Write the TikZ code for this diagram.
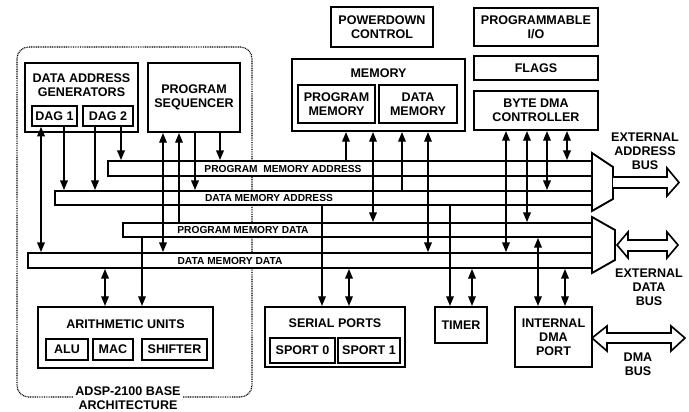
\documentclass[tikz,border=0pt]{standalone}
\usepackage{fontspec}
\setmainfont{Liberation Sans}
\usepackage{tikz}
\usetikzlibrary{arrows.meta,positioning}

\begin{document}
\begin{tikzpicture}
  [
    x=0.3mm, y=-0.3mm,
    >={Triangle[length=2.9mm, width=2.3mm]},
    wh/.style 2 args={minimum width=#1*0.3mm, minimum height=#2*0.3mm},
    Unit/.style={draw=black, line width=1.8pt, fill=white, inner sep=0pt, align=center, font=\bfseries\fontsize{10.7}{11.9}\selectfont},
    Part/.style={Unit, line width=1.3pt},
    Title/.style={inner sep=0pt, align=center, font=\bfseries\fontsize{10.7}{11.9}\selectfont},
    Bus/.style={draw=black, line width=1.6pt, fill=white, inner sep=0pt},
    BusName/.style={inner sep=0pt, font=\bfseries\fontsize{8.7}{10}\selectfont},
    Wire/.style={draw, line width=1.2pt},
    Frame/.style={draw, dash pattern=on 0.8pt off 0.7pt, line width=1pt, rounded corners=3.5mm},
    Fat/.style={draw, line width=1.4pt, fill=white}
  ]
  \useasboundingbox (0,0) rectangle (689,412);

  % Base architecture frame
  \draw[Frame] (17,47) rectangle (252,397);

  % Buses
  \node[Bus, wh={484}{15}] (pma) at (350,168.5) {};
  \node[Bus, wh={537}{14}] (dma) at (323.5,198) {};
  \node[Bus, wh={469}{14}] (pmd) at (357.5,230) {};
  \node[Bus, wh={564}{15}] (dmd) at (310,260.5) {};

  \node[BusName] (pmaName) at (283,168.5) {PROGRAM\ \ MEMORY ADDRESS};
  \node[BusName] (dmaName) at (269,198) {DATA MEMORY ADDRESS};
  \node[BusName] (pmdName) at (243,230) {PROGRAM MEMORY DATA};
  \node[BusName] (dmdName) at (230,260.5) {DATA MEMORY DATA};

  % Bus exchange
  \draw[Bus] (592,153) -- (613,167) -- (613,199) -- (592,211) -- cycle;
  \draw[Bus] (592,217) -- (615,230) -- (615,260) -- (592,273) -- cycle;

  \draw[Fat] (613,177) -- (667,177) -- (667,168) -- (679,182.5)
    -- (667,196) -- (667,188) -- (613,188);
  \draw[Fat] (617,245) -- (628,232) -- (628,240) -- (667,240) -- (667,232)
    -- (678,245) -- (667,258) -- (667,251) -- (628,251) -- (628,258) -- cycle;
  \draw[Fat] (592,338) -- (607,326) -- (607,333) -- (671,333) -- (671,326)
    -- (685,338) -- (671,351) -- (671,343) -- (607,343) -- (607,351) -- cycle;

  \node[Title] (extAddr) at (645,151) {EXTERNAL\\ADDRESS\\BUS};
  \node[Title] (extData) at (649,287) {EXTERNAL\\DATA\\BUS};
  \node[Title] (dmaBus) at (638,364) {DMA\\BUS};

  % Nodes
  \node[Unit, wh={113}{69}] (dag) at (81.5,97.5) {};
  \node[Title] (dagName) at (81.5,85) {DATA ADDRESS\\GENERATORS};
  \node[Part, wh={45}{20}] (dagA) at (54.5,116) {DAG 1};
  \node[Part, wh={50}{20}] (dagB) at (108,116) {DAG 2};

  \node[Unit, wh={92}{69}] (seq) at (194,97.5) {PROGRAM\\SEQUENCER};

  \node[Unit, wh={102}{40}] (power) at (382,27) {POWERDOWN\\CONTROL};

  \node[Unit, wh={173}{72}] (mem) at (378.5,95) {};
  \node[Title] (memName) at (378.5,73) {MEMORY};
  \node[Part, wh={77}{38}] (pmem) at (336.5,104) {PROGRAM\\MEMORY};
  \node[Part, wh={78}{38}] (dmem) at (418,104) {DATA\\MEMORY};

  \node[Unit, wh={124}{38}] (pio) at (536,27) {PROGRAMMABLE\\I/O};
  \node[Unit, wh={124}{24}] (flags) at (536,68) {FLAGS};
  \node[Unit, wh={124}{39}] (bdma) at (536,110.5) {BYTE DMA\\CONTROLLER};

  \node[Unit, wh={175}{61}] (arith) at (125.5,337.5) {};
  \node[Title] (arithName) at (125.5,324) {ARITHMETIC UNITS};
  \node[Part, wh={42}{21}] (alu) at (67,349.5) {ALU};
  \node[Part, wh={40}{21}] (mac) at (113,349.5) {MAC};
  \node[Part, wh={65}{21}] (shifter) at (174.5,349.5) {SHIFTER};

  \node[Unit, wh={140}{60}] (serial) at (335,337) {};
  \node[Title] (serialName) at (335,323) {SERIAL PORTS};
  \node[Part, wh={65}{25}] (sportA) at (302.5,350.5) {SPORT 0};
  \node[Part, wh={62}{25}] (sportB) at (369,350.5) {SPORT 1};

  \node[Unit, wh={52}{36}] (timer) at (461,325) {TIMER};
  \node[Unit, wh={77}{60}] (idma) at (553.5,337) {INTERNAL\\DMA\\PORT};

  \node[Title, fill=white, inner sep=2pt] (base) at (128,398) {ADSP-2100 BASE\\ARCHITECTURE};

  % Lines
  \path [<->, Wire] (dagA.south -| 41,0) -- (dmd.north -| 41,0);
  \path [->, Wire] (dagA.south -| 64,0) -- (dma.north -| 64,0);
  \path [->, Wire] (dagB.south -| 95,0) -- (dma.north -| 95,0);
  \path [->, Wire] (dagB.south -| 121,0) -- (pma.north -| 121,0);

  \path [<->, Wire] (seq.south -| 163,0) -- (dmd.north -| 163,0);
  \path [<-, Wire] (seq.south -| 179,0) -- (pmd.north -| 179,0);
  \path [->, Wire] (seq.south -| 195,0) -- (dma.north -| 195,0);
  \path [->, Wire] (seq.south -| 220,0) -- (pma.north -| 220,0);

  \path [<->, Wire] (dmd.south -| 105,0) -- (arith.north -| 105,0);
  \path [->, Wire] (pmd.south -| 142,0) -- (arith.north -| 142,0);

  \path [<-, Wire] (mem.south -| 346,0) -- (pma.north -| 346,0);
  \path [<->, Wire] (mem.south -| 373,0) -- (pmd.north -| 373,0);
  \path [<-, Wire] (mem.south -| 402,0) -- (dma.north -| 402,0);
  \path [<->, Wire] (mem.south -| 428,0) -- (dmd.north -| 428,0);

  \path [<->, Wire] (bdma.south -| 506,0) -- (dmd.north -| 506,0);
  \path [<->, Wire] (bdma.south -| 527,0) -- (pmd.north -| 527,0);
  \path [<->, Wire] (bdma.south -| 547,0) -- (dma.north -| 547,0);
  \path [<->, Wire] (bdma.south -| 567,0) -- (pma.north -| 567,0);

  \path [->, Wire] (dma.south -| 322,0) -- (serial.north -| 322,0);
  \path [<->, Wire] (dmd.south -| 349,0) -- (serial.north -| 349,0);
  \path [->, Wire] (dma.south -| 450,0) -- (timer.north -| 450,0);
  \path [<->, Wire] (dmd.south -| 472,0) -- (timer.north -| 472,0);
  \path [<->, Wire] (pmd.south -| 538,0) -- (idma.north -| 538,0);
  \path [<->, Wire] (dmd.south -| 565,0) -- (idma.north -| 565,0);

\end{tikzpicture}
\end{document}
